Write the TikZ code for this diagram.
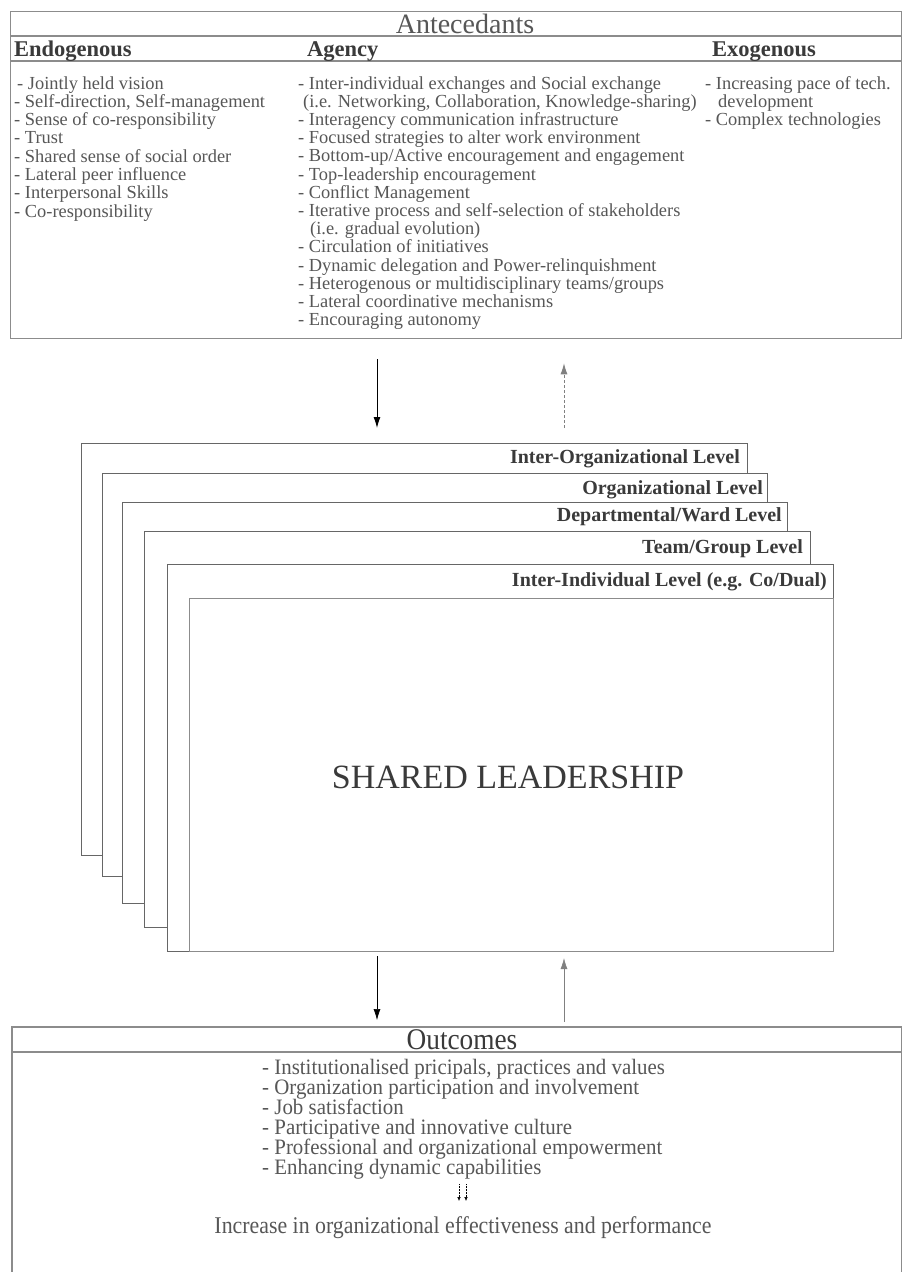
\documentclass[tikz,border=0pt]{standalone}
\usepackage{fontspec}
\setmainfont{Liberation Serif}
\newfontfamily\condserif[FakeStretch=0.95]{Liberation Serif}
\newfontfamily\narrowserif[FakeStretch=0.91]{Liberation Serif}
\usetikzlibrary{arrows.meta}

\definecolor{ink}{HTML}{575757}
\definecolor{darkink}{HTML}{3A3A3A}
\definecolor{rulegray}{HTML}{8C8C8C}
\definecolor{boxgray}{HTML}{666666}

\begin{document}
\begin{tikzpicture}[x=1pt,y=-1pt,
  frame/.style={draw=rulegray, line width=1.3pt, inner sep=0pt, anchor=north west},
  lvlbox/.style={draw=boxgray, line width=1.2pt, fill=white, inner sep=0pt, anchor=north west},
  mainbox/.style={draw=rulegray, line width=1.2pt, fill=white, inner sep=0pt, anchor=north west},
  lvllabel/.style={anchor=base east, inner sep=0pt, text=darkink, font=\fontsize{20}{20}\selectfont\bfseries},
  head/.style={anchor=base west, inner sep=0pt, text=darkink, font=\fontsize{22.5}{22.5}\selectfont\bfseries},
  item/.style={anchor=base west, inner sep=0pt, text=ink, font=\fontsize{18.4}{18.4}\selectfont},
  outitem/.style={anchor=base west, inner sep=0pt, text=ink, font=\fontsize{22}{22}\condserif},
  arr/.style={-{Latex[length=11pt,width=7pt]}, line width=0.9pt},
  smallarr/.style={-{Latex[length=4pt,width=3.5pt]}, line width=0.5pt, densely dotted}
]
\useasboundingbox[fill=white] (0,0) rectangle (903,1272);

% ---------- Antecedants ----------
\node[frame, minimum width=891pt, minimum height=327pt] (ante) at (10,11) {};
\draw[rulegray, line width=1.2pt] ([yshift=-25pt]ante.north west) -- ([yshift=-25pt]ante.north east);
\draw[rulegray, line width=1.2pt] ([yshift=-50pt]ante.north west) -- ([yshift=-50pt]ante.north east);
\node[anchor=base, inner sep=0pt, text=ink, font=\fontsize{28}{28}\selectfont] (antetitle) at (465,33) {Antecedants};

\node[head] (hendo) at (14,56) {Endogenous};
\node[head] (hagen) at (307,56) {Agency};
\node[head] (hexo)  at (712,56) {Exogenous};

\foreach \t [count=\i] in {
  {\hspace{3pt}- Jointly held vision},
  {- Self-direction, Self-management},
  {- Sense of co-responsibility},
  {- Trust},
  {- Shared sense of social order},
  {- Lateral peer influence},
  {- Interpersonal Skills},
  {- Co-responsibility}}
  \node[item] (endo\i) at (14, 89+18.3*\i-18.3) {\t};

\foreach \t [count=\i] in {
  {- Inter-individual exchanges and Social exchange},
  {\hspace{5pt}(i.e. Networking, Collaboration, Knowledge-sharing)},
  {- Interagency communication infrastructure},
  {- Focused strategies to alter work environment},
  {- Bottom-up/Active encouragement and engagement},
  {- Top-leadership encouragement},
  {- Conflict Management},
  {- Iterative process and self-selection of stakeholders},
  {\hspace{12pt}(i.e. gradual evolution)},
  {- Circulation of initiatives},
  {- Dynamic delegation and Power-relinquishment},
  {- Heterogenous or multidisciplinary teams/groups},
  {- Lateral coordinative mechanisms},
  {- Encouraging autonomy}}
  \node[item] (agen\i) at (298, 89+18.2*\i-18.2) {\t};

\foreach \t [count=\i] in {
  {- Increasing pace of tech.},
  {\hspace{13pt}development},
  {- Complex technologies}}
  \node[item] (exo\i) at (705, 89+18.2*\i-18.2) {\t};

% ---------- Stacked levels ----------
\node[lvlbox, minimum width=666pt, minimum height=412pt] (L1) at (81,443) {};
\node[lvlbox, minimum width=665pt, minimum height=403pt] (L2) at (102,473) {};
\node[lvlbox, minimum width=665pt, minimum height=401pt] (L3) at (122,502) {};
\node[lvlbox, minimum width=666pt, minimum height=396pt] (L4) at (144,531) {};
\node[lvlbox, minimum width=666pt, minimum height=387pt] (L5) at (167,564) {};
\node[mainbox, minimum width=644pt, minimum height=353pt] (main) at (189,598) {};

\node[lvllabel] (t1) at (740,463) {Inter-Organizational Level};
\node[lvllabel] (t2) at (763,494) {Organizational Level};
\node[lvllabel] (t3) at (782,521) {Departmental/Ward Level};
\node[lvllabel] (t4) at (803,553) {Team/Group Level};
\node[lvllabel] (t5) at (827,586) {Inter-Individual Level (e.g. Co/Dual)};

\node[inner sep=0pt, text=darkink, font=\fontsize{34}{34}\selectfont] (slead) at (508,777) {SHARED LEADERSHIP};

% ---------- Outcomes ----------
\node[inner sep=0pt, anchor=north west, minimum width=889pt, minimum height=245pt] (out) at (12,1027) {};
\draw[rulegray, line width=1.3pt] (out.south west) -- (out.north west) -- (out.north east) -- (out.south east);
\draw[rulegray, line width=1.2pt] ([yshift=-25pt]out.north west) -- ([yshift=-25pt]out.north east);
\node[anchor=base, inner sep=0pt, text=darkink, font=\fontsize{30}{30}\narrowserif] (outtitle) at (462,1049) {Outcomes};

\foreach \t [count=\i] in {
  {- Institutionalised pricipals, practices and values},
  {- Organization participation and involvement},
  {- Job satisfaction},
  {- Participative and innovative culture},
  {- Professional and organizational empowerment},
  {- Enhancing dynamic capabilities}}
  \node[outitem] (oi\i) at (262, 1074+20*\i-20) {\t};

\node[anchor=base, inner sep=0pt, text=ink, font=\fontsize{24}{24}\narrowserif] (perf) at (463,1233) {Increase in organizational effectiveness and performance};

% ---------- Connectors ----------
\coordinate (cx1) at (377,0);
\coordinate (cx2) at (564,0);
\draw[arr] ([yshift=-20pt]ante.south -| cx1) -- ([yshift=15pt]L1.north -| cx1);
\draw[arr, draw=gray, densely dashed, line width=0.8pt] ([yshift=15pt]L1.north -| cx2) -- ([yshift=-24pt]ante.south -| cx2);
\draw[arr, line width=0.6pt] ([yshift=-4pt]main.south -| cx1) -- ([yshift=7pt]out.north -| cx1);
\draw[arr, line width=0.5pt, draw=gray] ([yshift=5pt]out.north -| cx2) -- ([yshift=-6pt]main.south -| cx2);

\coordinate (da1) at (459,1184);
\coordinate (db1) at (459,1201);
\coordinate (da2) at (466,1184);
\coordinate (db2) at (466,1201);
\draw[smallarr] (da1) -- (db1);
\draw[smallarr] (da2) -- (db2);
\end{tikzpicture}
\end{document}
